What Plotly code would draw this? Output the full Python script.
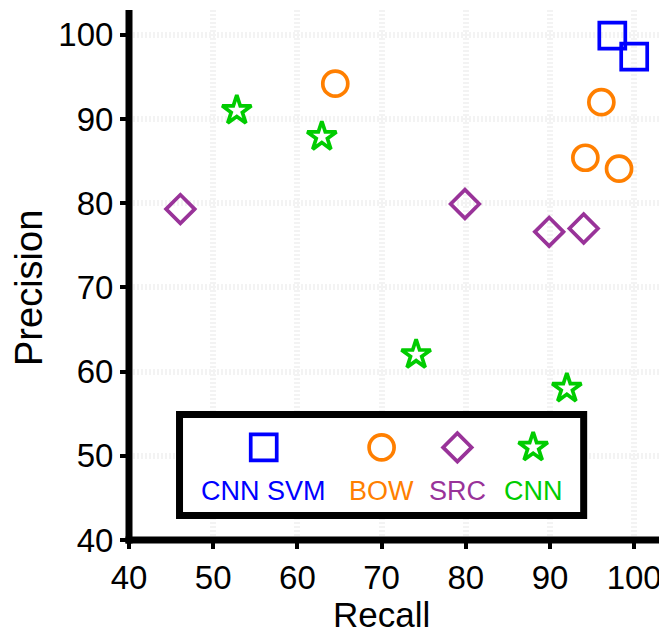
import plotly.graph_objects as go

# ---- data ----
series_names = ["CNN SVM", "BOW", "SRC", "CNN"]
cnnsvm_recall = [97.4, 100.0]
cnnsvm_precision = [99.9, 97.4]
bow_recall = [64.5, 96.1, 94.2, 98.2]
bow_precision = [94.2, 92.0, 85.4, 84.1]
src_recall = [46.1, 79.9, 89.9, 94.0]
src_precision = [79.3, 79.9, 76.6, 77.0]
cnn_recall = [52.8, 62.9, 74.1, 92.0]
cnn_precision = [91.0, 87.9, 62.0, 58.0]
tick_vals = [40, 50, 60, 70, 80, 90, 100]

# ---- styles ----
colors = ["#0000ff", "#ff7f00", "#993399", "#00cc00"]
symbols = ["square-open", "circle-open", "diamond-open", "star-open"]
sizes = [26, 25, 22, 22]
FONT = "Liberation Sans"

# legend layout (in-plot box, data coordinates)
legend_box = dict(x0=46, x1=94, y0=42.9, y1=54.9)
legend_marker_x = [56, 70, 79, 88]
legend_marker_y = 51
legend_text_y = 45.8

fig = go.Figure()
data = [(cnnsvm_recall, cnnsvm_precision), (bow_recall, bow_precision),
        (src_recall, src_precision), (cnn_recall, cnn_precision)]
for i, (xs, ys) in enumerate(data):
    fig.add_trace(go.Scatter(
        x=xs, y=ys, mode="markers", name=series_names[i], showlegend=False,
        cliponaxis=False,
        marker=dict(symbol=symbols[i], size=sizes[i], color=colors[i],
                    line=dict(color=colors[i], width=3.7))))

# legend entries (marker above label)
for i in range(4):
    fig.add_trace(go.Scatter(
        x=[legend_marker_x[i]], y=[legend_marker_y], mode="markers",
        showlegend=False, cliponaxis=False, hoverinfo="skip",
        marker=dict(symbol=symbols[i], size=sizes[i], color=colors[i],
                    line=dict(color=colors[i], width=3.7))))
    fig.add_annotation(x=legend_marker_x[i], y=legend_text_y, xref="x", yref="y",
                       text=series_names[i], showarrow=False,
                       font=dict(family=FONT, size=27, color=colors[i]),
                       xanchor="center", yanchor="middle")

fig.add_shape(type="rect", xref="x", yref="y", layer="between",
              fillcolor="white", line=dict(color="black", width=7), **legend_box)

# page has an 8px body margin: figure sized/positioned accordingly
OFF = 8
W, H = 667 - OFF, 635 - OFF
ml, mr, mt, mb = 129 - OFF, 7, 10 - OFF, 95
pw, ph = W - ml - mr, H - mt - mb

# spines drawn centred on the plot edges
fig.add_shape(type="line", xref="paper", yref="paper", x0=0, x1=0,
              y0=-3.5 / ph, y1=1, line=dict(color="black", width=7), layer="above")
fig.add_shape(type="line", xref="paper", yref="paper", y0=0, y1=0,
              x0=-3.5 / pw, x1=1, line=dict(color="black", width=7), layer="above")

scale = 8.42  # px per unit
x_max = 40 + pw / scale
y_max = 40 + ph / scale

axis_common = dict(
    tickvals=tick_vals, ticktext=[str(v) for v in tick_vals],
    showline=False, zeroline=False, ticks="outside", ticklen=8, tickwidth=4,
    tickcolor="black", showgrid=True, gridcolor="#f3f3f3", gridwidth=6,
    griddash="2px,2px", tickfont=dict(family=FONT, size=33, color="black"),
)
fig.update_xaxes(range=[40, x_max], **axis_common)
fig.update_yaxes(range=[40, y_max], **axis_common)

# axis titles (page coords converted to paper coords)
def px_to_paper_x(px):
    return (px - OFF - ml) / pw

def px_to_paper_y(py):
    return (mt + ph - (py - OFF)) / ph

fig.add_annotation(text="Recall", xref="paper", yref="paper",
                   x=px_to_paper_x(381.5), y=px_to_paper_y(635), showarrow=False,
                   xanchor="center", yanchor="bottom", borderpad=0,
                   font=dict(family=FONT, size=35, color="black"))
fig.add_annotation(text="Precision", xref="paper", yref="paper",
                   x=px_to_paper_x(29), y=px_to_paper_y(288), showarrow=False,
                   textangle=-90, xanchor="center", yanchor="middle",
                   font=dict(family=FONT, size=38, color="black"))

fig.update_layout(
    width=W, height=H, margin=dict(l=ml, r=mr, t=mt, b=mb),
    plot_bgcolor="white", paper_bgcolor="white",
    font=dict(family=FONT, color="black"),
)
fig.write_html("out.html")
